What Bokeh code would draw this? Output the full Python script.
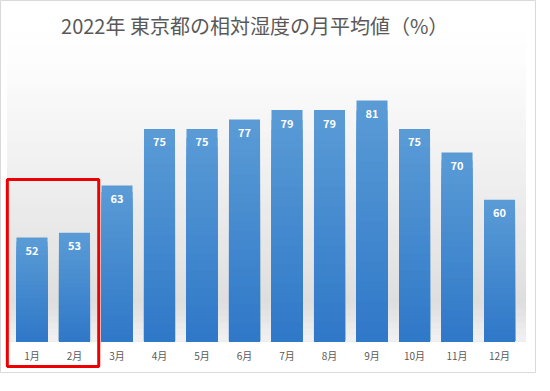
from bokeh.plotting import figure
from bokeh.models import Range1d, BoxAnnotation, Label, ColumnDataSource
from bokeh.core.properties import value
from bokeh.embed import file_html
from bokeh.resources import INLINE

title = "2022年 東京都の相対湿度の月平均値（%）"
months = ["1月", "2月", "3月", "4月", "5月", "6月", "7月", "8月", "9月", "10月", "11月", "12月"]
humidity = [52, 53, 63, 75, 75, 77, 79, 79, 81, 75, 70, 60]
highlight = ["1月", "2月"]

Y_BASE = 30
FONT = "Noto Sans CJK JP"

p = figure(width=536, height=373, output_backend="svg", toolbar_location=None,
           x_range=Range1d(0.259, 12.87), y_range=Range1d(23.23, 102.18),
           x_axis_location=None, y_axis_location=None, min_border=0,
           background_fill_color="white", border_fill_color="white",
           outline_line_color="#d9d9d9", outline_line_width=1)
p.xgrid.visible = False
p.ygrid.visible = False


def lerp(c1, c2, t):
    return "#%02x%02x%02x" % tuple(int(round(a + (b - a) * t)) for a, b in zip(c1, c2))


# background gradient of plot area (decoration): overlapping boxes, tallest first
stops = [(Y_BASE, (242, 242, 242)), (38, (222, 222, 222)), (50, (230, 230, 230)),
         (70, (242, 242, 242)), (88, (252, 252, 252)), (97, (255, 255, 255))]
n_band = 50
lo, hi = Y_BASE, 97
for k in range(n_band - 1, -1, -1):
    y1 = lo + (hi - lo) * (k + 1) / n_band
    ym = lo + (hi - lo) * (k + 0.5) / n_band
    for (a, ca), (b, cb) in zip(stops[:-1], stops[1:]):
        if a <= ym <= b:
            col = lerp(ca, cb, (ym - a) / (b - a))
            break
    p.add_layout(BoxAnnotation(left=0.42, right=12.62, bottom=lo, top=y1,
                               fill_color=col, fill_alpha=1, line_alpha=0,
                               level="underlay"))

# bars with vertical gradient: overlapping bars, tallest (lightest) first
xs = list(range(1, len(months) + 1))
top_c = (91, 156, 214)
bot_c = (47, 120, 200)
n_slice = 24
for k in range(n_slice - 1, -1, -1):
    tops = [Y_BASE + (v - Y_BASE) * (k + 1) / n_slice for v in humidity]
    col = lerp(bot_c, top_c, (k + 0.5) / n_slice)
    p.vbar(x=xs, bottom=Y_BASE, top=tops, width=0.73, fill_color=col, line_color=None)

src = ColumnDataSource(dict(x=xs, v=humidity, lab=[str(h) for h in humidity], m=months,
                            base=[Y_BASE] * len(xs)))
p.text(x="x", y="v", text="lab", source=src, text_align="center", text_baseline="middle",
       y_offset=13, text_color="white", text_font_style="bold", text_font_size="11px",
       text_font=value(FONT))
p.text(x="x", y="base", text="m", source=src, text_align="center", text_baseline="middle",
       y_offset=14, text_color="#595959", text_font_size="10px", text_font=value(FONT))

# red highlight box
hi_idx = [months.index(m) + 1 for m in highlight]
p.add_layout(BoxAnnotation(left=min(hi_idx) - 0.58, right=max(hi_idx) + 0.57,
                           bottom=24.7, top=64.3, fill_alpha=0,
                           line_color="#ee0000", line_alpha=1, line_width=3))

p.add_layout(Label(x=6.24, y=96.9, text=title, text_align="center", text_baseline="middle",
                   text_font_size="20px", text_color="#595959", text_font=FONT))

open("out.html", "w").write(file_html(p, INLINE))
